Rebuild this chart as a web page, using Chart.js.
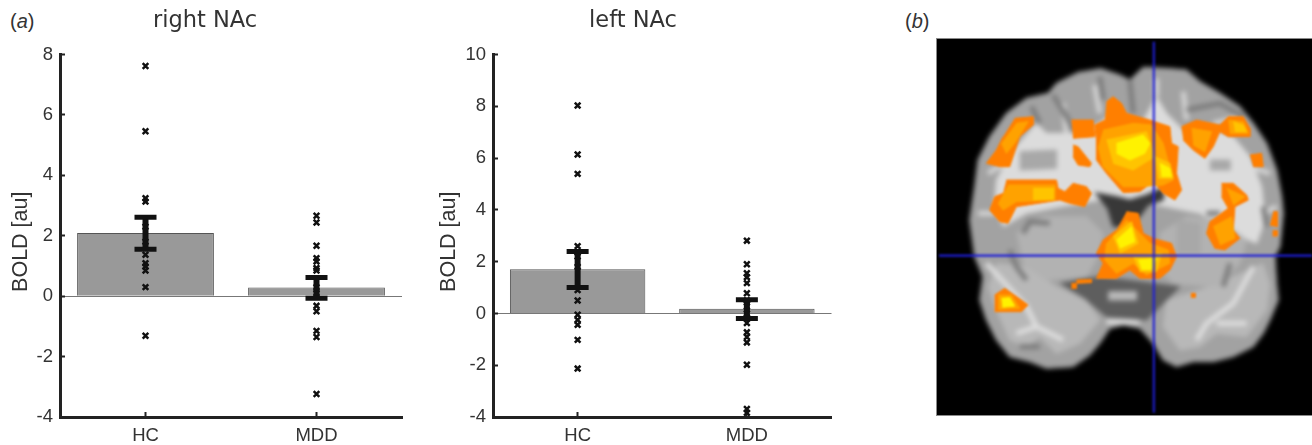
<!DOCTYPE html>
<html>
<head>
<meta charset="utf-8">
<title>NAc BOLD</title>
<script src="https://cdn.jsdelivr.net/npm/chart.js@4"></script>
<style>
  body { margin: 0; background: #fff; width: 1312px; height: 445px; overflow: hidden; position: relative; }
  canvas { position: absolute; }
  #rightNac { left: 0; top: 0; }
  #leftNac { left: 430px; top: 0; }
  #brainBox { position: absolute; left: 937px; top: 39px; width: 375px; height: 376px; background: #000; outline: 1px solid #8a8a8a; overflow: hidden; }
  #brainBase { left: 0; top: 0; filter: blur(2.6px); }
  #brainActivity { left: 0; top: 0; filter: blur(0.8px); }
  .panel { position: absolute; top: 10px; font: 20px "Liberation Sans", sans-serif; color: #333; }
</style>
</head>
<body>
<span class="panel" style="left:10px">(<i>a</i>)</span>
<span class="panel" style="left:905px">(<i>b</i>)</span>
<canvas id="rightNac" width="410" height="445"></canvas>
<canvas id="leftNac" width="406" height="445"></canvas>
<div id="brainBox">
  <canvas id="brainBase" width="375" height="376"></canvas>
  <canvas id="brainActivity" width="375" height="376"></canvas>
</div>
<script>
// Valores de las barras
const groups = ['HC', 'MDD'];
const rightMeans = [2.09, 0.29];
const rightHcPoints = [7.62, 5.46, 3.24, 3.13, 2.3, 1.8, 1.37, 1.09, 0.98, 0.85, 0.3, -1.31];
const rightMddPoints = [2.66, 2.44, 1.67, 1.26, 1.15, 0.93, 0.85, 0.3, 0.1, -0.32, -0.5, -1.15, -1.35, -3.24];
const rightHcError = [1.55, 2.61];
const rightMddError = [-0.07, 0.62];

const leftMeans = [1.71, 0.18];
const leftHcPoints = [8.03, 6.14, 5.39, 2.6, 2.2, 1.8, 0.9, 0.5, -0.05, -0.25, -0.44, -1.02, -2.13];
const leftMddPoints = [2.81, 1.9, 1.55, 1.4, 1.17, 0.78, 0.5, 0.27, 0, -0.37, -0.73, -0.91, -1.12, -1.98, -3.69, -3.84];
const leftHcError = [1.0, 2.39];
const leftMddError = [-0.2, 0.53];

// Contornos del corte coronal (unidades de imagen)
const brainOutline = [[600,205],[660,225],[690,240],[730,202],[800,205],[860,210],[900,245],[960,280],[1020,320],[1060,370],[1100,430],[1130,510],[1145,590],[1150,640],[1140,740],[1125,770],[1130,850],[1135,900],[1110,960],[1090,1000],[1060,1040],[1000,1070],[940,1085],[880,1085],[830,1100],[790,1080],[760,1030],[720,985],[670,975],[630,985],[600,1030],[570,1065],[520,1100],[440,1105],[390,1085],[330,1070],[290,1020],[260,960],[240,900],[250,830],[225,770],[210,660],[225,560],[235,480],[270,410],[320,340],[380,295],[445,280],[470,250],[540,215]];
const whiteCentral = [[285,620],[290,540],[340,450],[410,370],[440,400],[500,400],[555,400],[640,340],[720,380],[770,290],[800,340],[860,400],[920,380],[1000,410],[1050,470],[1085,560],[1095,660],[1070,730],[1000,700],[900,640],[800,620],[700,600],[600,600],[480,620],[380,640],[310,680]];
const temporalL = [[290,790],[380,800],[470,860],[560,900],[600,960],[540,1030],[470,1060],[420,1010],[380,1040],[330,1020],[290,930],[265,860]];
const temporalR = [[1090,790],[1000,830],[900,870],[800,900],[790,980],[840,1050],[900,1040],[950,1000],[1040,1010],[1100,930],[1110,850]];
const nucleiL = [[350,700],[430,650],[560,650],[610,700],[600,760],[560,830],[440,840],[370,790]];
const nucleiR = [[780,700],[860,650],[960,660],[1040,720],[1020,790],[950,860],[820,850],[770,800]];
const brainstem = [[480,850],[600,830],[840,860],[780,920],[740,960],[620,950],[560,900]];
const brainstemCore = [[625,875],[710,875],[710,900],[625,900]];
const ventricles = [[585,578],[650,590],[690,600],[740,585],[790,562],[790,600],[745,615],[720,650],[670,680],[640,680],[625,630]];

// Surcos oscuros, circunvoluciones y sustancia blanca fina
const darkSulci = [
  [[690,240],[700,340]],
  [[460,285],[500,350],[520,390]],
  [[395,320],[420,370]],
  [[600,230],[610,300]],
  [[860,330],[960,310],[1030,350]],
  [[370,700],[390,665],[450,670]],
  [[330,750],[350,800],[380,840]],
  [[990,790],[970,860]],
  [[1090,620],[1100,680]],
  [[360,1040],[420,1040]],
  [[920,640],[960,640]]
];
const greyPatches = [
  [[360,455],[470,450],[470,505],[360,510]],
  [[930,480],[990,480],[990,510],[930,510]],
  [[830,660],[900,670],[900,760],[830,760]]
];
const gyri = [
  [[500,400],[490,310]],
  [[600,340],[585,255]],
  [[770,290],[770,235]],
  [[860,360],[850,275]],
  [[940,370],[1010,355]],
  [[330,480],[265,520]],
  [[1050,500],[1110,520]],
  [[285,640],[235,640]],
  [[1090,640],[1130,620]]
];
const whiteStrands = [
  [[1060,800],[1000,910],[920,970],[890,1020]],
  [[950,970],[1040,970]],
  [[260,790],[380,920],[410,980],[490,1020]],
  [[410,980],[350,1000]],
  [[620,965],[720,965]]
];

const orangeBlobs = [
  [[620,305],[640,290],[665,310],[680,340],[750,360],[810,380],[815,430],[835,440],[830,520],[845,570],[825,600],[790,580],[760,545],[720,575],[670,578],[620,520],[590,480],[590,420],[585,375],[615,360]],
  [[680,635],[715,640],[730,700],[760,715],[815,730],[830,770],[810,810],[780,835],[720,835],[690,810],[650,835],[590,835],[610,790],[590,760],[610,720],[650,690]],
  [[345,355],[400,350],[400,375],[360,410],[330,500],[300,500],[260,490],[290,450],[310,410]],
  [[320,540],[470,540],[475,565],[495,575],[520,550],[560,560],[575,580],[555,620],[510,610],[480,600],[350,620],[325,670],[300,665],[270,630],[285,590],[310,580]],
  [[515,360],[580,360],[585,410],[520,415]],
  [[520,435],[535,440],[575,490],[570,500],[535,495],[520,470]],
  [[845,380],[890,360],[960,375],[985,350],[1030,350],[1050,385],[1050,410],[985,410],[960,395],[940,440],[915,475],[880,450],[850,420]],
  [[1050,465],[1085,460],[1090,500],[1060,500]],
  [[965,550],[1000,550],[1040,585],[1045,600],[1005,620],[1000,690],[1020,715],[975,750],[945,745],[920,700],[930,665],[985,625],[965,590]],
  [[1120,635],[1132,635],[1132,680],[1110,675]],
  [[1118,692],[1132,692],[1132,708],[1118,708]],
  [[285,885],[315,865],[365,900],[385,915],[365,935],[285,935]],
  [[515,850],[530,850],[530,865],[515,865]],
  [[530,840],[575,838],[575,848],[530,850]],
  [[873,880],[886,880],[886,892],[873,892]]
];
const amberBlobs = [
  [[610,390],[700,370],[755,375],[790,430],[820,540],[790,555],[720,560],[670,560],[610,500],[595,440]],
  [[680,660],[720,700],[750,730],[805,750],[810,790],[740,825],[700,790],[650,820],[615,780],[620,730]],
  [[350,370],[385,365],[345,430],[320,460],[305,430]],
  [[325,555],[465,555],[465,600],[350,605],[310,630],[295,610]],
  [[875,385],[935,395],[915,455],[880,435]],
  [[985,360],[1030,365],[1045,400],[990,400]],
  [[980,565],[1035,590],[1000,615]],
  [[940,680],[995,650],[1005,715],[960,735]],
  [[295,885],[335,885],[360,925],[295,928]]
];
const goldBlobs = [
  [[620,420],[740,395],[765,470],[700,510],[640,490]],
  [[765,470],[810,490],[820,535],[775,535]],
  [[640,710],[695,665],[715,730],[660,760]],
  [[700,770],[785,760],[770,815],[720,815]],
  [[400,565],[462,565],[460,598],[400,600]],
  [[1000,365],[1030,375],[1040,395],[1005,395]]
];
const yellowBlobs = [
  [[650,430],[730,405],[750,430],[735,460],[690,480],[650,460]],
  [[780,490],[810,505],[815,530],[785,530]],
  [[650,720],[695,680],[705,725],[660,745]],
  [[715,780],[770,775],[755,808],[725,808]],
  [[305,895],[330,893],[345,918],[308,922]]
];
const crossV = [[762,125],[762,1238]];
const crossH = [[118,767],[1236,767]];

const INK = '#222';
const TEXT = '#333';

function errorDataset(group, range) {
  return {
    type: 'line',
    order: 0,
    data: range.map(y => ({ x: group, y })),
    borderColor: '#111',
    borderWidth: 6,
    pointStyle: 'line',
    pointRadius: 11,
    pointBorderWidth: 5,
    pointBorderColor: '#111'
  };
}

function pointsDataset(group, values) {
  return {
    type: 'line',
    order: 1,
    showLine: false,
    data: values.map(y => ({ x: group, y })),
    pointStyle: 'crossRot',
    pointRadius: 4,
    pointBorderWidth: 2.5,
    pointBorderColor: '#111'
  };
}

function makeBarChart(id, title, means, hcPoints, mddPoints, hcError, mddError, yMin, yMax, axisLeft, side) {
  new Chart(document.getElementById(id), {
    type: 'bar',
    data: {
      labels: groups,
      datasets: [
        errorDataset('HC', hcError),
        errorDataset('MDD', mddError),
        pointsDataset('HC', hcPoints),
        pointsDataset('MDD', mddPoints),
        {
          order: 2,
          data: means,
          backgroundColor: '#999',
          borderColor: '#555',
          borderWidth: 1,
          barPercentage: 0.8,
          categoryPercentage: 1
        }
      ]
    },
    options: {
      responsive: false,
      animation: false,
      plugins: {
        legend: { display: false },
        tooltip: { enabled: false },
        title: {
          display: true,
          text: title,
          color: TEXT,
          font: { family: 'DejaVu Sans', size: 22.5, weight: 'normal', lineHeight: 1.2 },
          padding: { top: 8, bottom: 19.5 }
        }
      },
      // sin autoPadding: los puntos grandes reducen el area del grafico
      layout: { autoPadding: false, padding: { left: side, right: side } },
      scales: {
        x: {
          grid: { offset: false, drawOnChartArea: false, tickLength: -5, tickWidth: 2, tickColor: INK },
          border: { color: INK, width: 3 },
          ticks: { color: TEXT, padding: 13, maxRotation: 0, font: { family: 'Liberation Sans', size: 18.5 } },
          afterFit: scale => { scale.height = 28; scale.paddingLeft = 0; scale.paddingRight = 0; }
        },
        y: {
          min: yMin,
          max: yMax,
          grid: {
            color: ctx => ctx.tick && ctx.tick.value === 0 ? '#777' : 'transparent',
            tickLength: -5,
            tickWidth: 2,
            tickColor: INK
          },
          border: { color: INK, width: 3 },
          ticks: { stepSize: 2, color: TEXT, padding: 12, font: { family: 'Liberation Sans', size: 18.5 } },
          // espacios al final: la etiqueta queda algo por debajo del centro del eje
          title: { display: true, text: 'BOLD [au]  ', color: TEXT, padding: { top: Math.max(0, 6 - side), bottom: 0 }, font: { family: 'Liberation Sans', size: 21.5 } },
          afterFit: scale => { scale.width = axisLeft - side; }
        }
      }
    }
  });
}

makeBarChart('rightNac', 'right NAc', rightMeans, rightHcPoints, rightMddPoints, rightHcError, rightMddError, -4, 8, 60, 8);
makeBarChart('leftNac', 'left NAc', leftMeans, leftHcPoints, leftMddPoints, leftHcError, leftMddError, -4, 10, 63, 4.5);

// Panel b: capas rellenas sobre fondo negro
function toXY(points) {
  return points.map(p => ({ x: p[0], y: p[1] }));
}
function shape(points, color) {
  return { data: toXY(points), backgroundColor: color, borderColor: color, borderWidth: 1, fill: 'shape', showLine: true, pointRadius: 0 };
}
function stroke(points, color, width) {
  return { data: toXY(points), borderColor: color, borderWidth: width, fill: false, showLine: true, pointRadius: 0 };
}

function makeBrainLayer(id, layers) {
  layers.forEach((layer, i) => { layer.order = layers.length - i; });
  new Chart(document.getElementById(id), {
    type: 'scatter',
    data: { datasets: layers },
    options: {
      responsive: false,
      animation: false,
      layout: { autoPadding: false },
      plugins: { legend: { display: false }, tooltip: { enabled: false } },
      scales: {
        x: { display: false, min: 112, max: 1236 },
        y: { display: false, min: 117, max: 1245, reverse: true }
      }
    }
  });
}

makeBrainLayer('brainBase', [
  shape(brainOutline, '#a2a2a2'),
  ...gyri.map(s => stroke(s, '#d4d4d4', 5)),
  shape(whiteCentral, '#dcdcdc'),
  shape(temporalL, '#b8b8b8'),
  shape(temporalR, '#b8b8b8'),
  shape(nucleiL, '#b2b2b2'),
  shape(nucleiR, '#b2b2b2'),
  ...greyPatches.map(p => shape(p, '#a8a8a8')),
  ...whiteStrands.map(s => stroke(s, '#dedede', 5)),
  ...darkSulci.map(s => stroke(s, '#7c7c7c', 5)),
  shape(brainstem, '#5e5e5e'),
  shape(brainstemCore, '#b8b8b8'),
  shape(ventricles, '#383838')
]);

makeBrainLayer('brainActivity', [
  ...orangeBlobs.map(b => shape(b, '#ff7f00')),
  ...amberBlobs.map(b => shape(b, '#ffa200')),
  ...goldBlobs.map(b => shape(b, '#ffc400')),
  ...yellowBlobs.map(b => shape(b, '#fff200')),
  stroke(crossV, 'rgba(30,30,215,0.8)', 2.6),
  stroke(crossH, 'rgba(30,30,215,0.8)', 2.6)
]);
</script>
</body>
</html>
